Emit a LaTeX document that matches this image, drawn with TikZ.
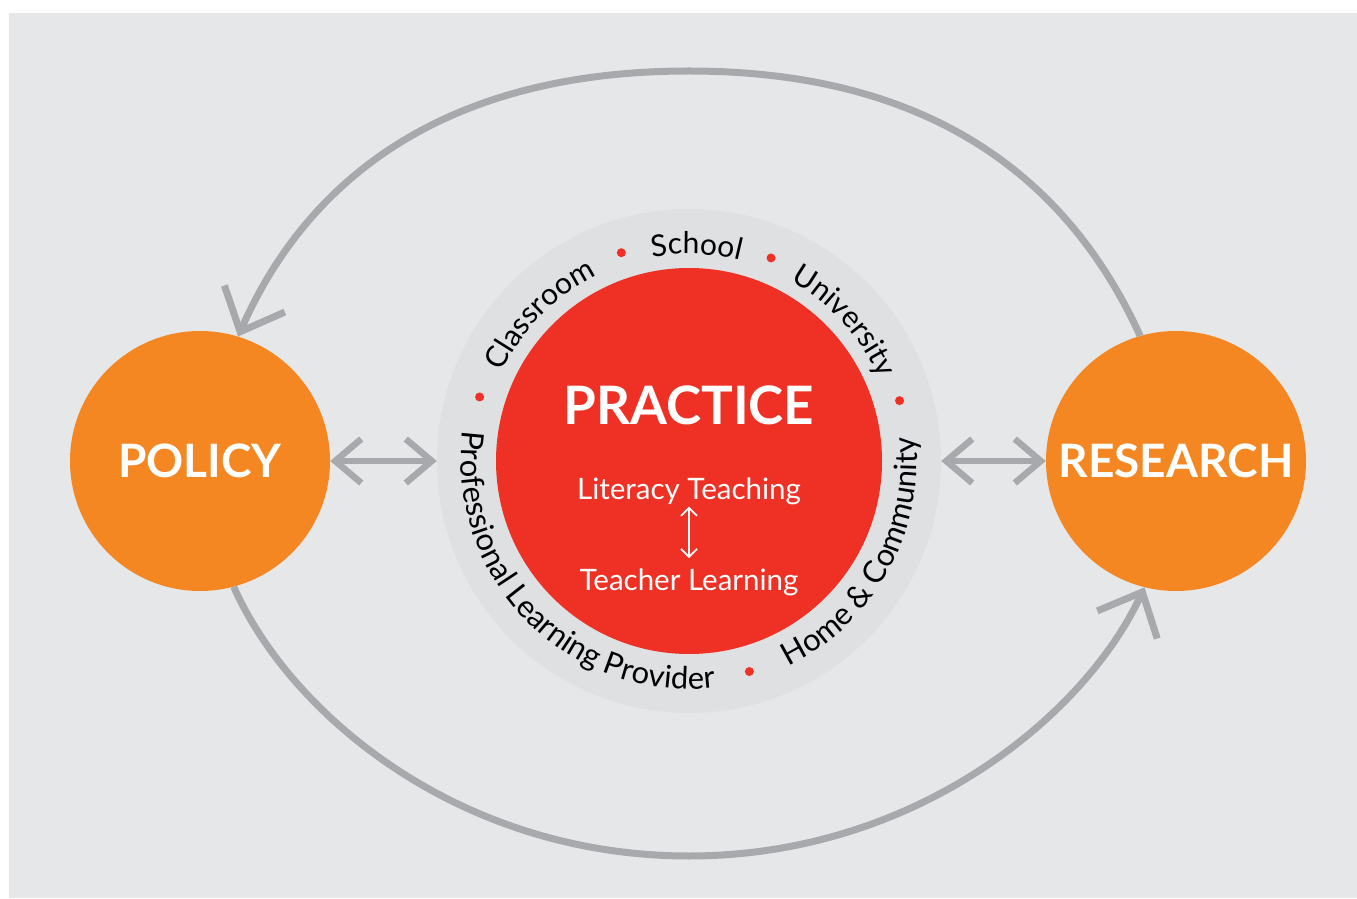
\documentclass[tikz,border=0pt]{standalone}
\usepackage{fontspec}
\setmainfont{Lato}
\usetikzlibrary{arrows.meta,decorations.text,positioning}

\definecolor{bggray}{RGB}{230,231,232}
\definecolor{ringgray}{RGB}{223,224,226}
\definecolor{arrowgray}{RGB}{167,169,172}
\definecolor{orangefill}{RGB}{244,135,34}
\definecolor{redfill}{RGB}{238,49,36}

\newcommand{\ringfont}{\fontsize{30}{36}\selectfont}
\newcommand{\lowringfont}{\fontsize{31}{36}\selectfont}

\tikzset{
  bigcircle/.style={circle, fill=orangefill, minimum size=260pt, inner sep=0pt,
    text=white, font=\fontsize{46}{50}\selectfont\bfseries},
  loop arrow/.style={draw=arrowgray, line width=7pt,
    -{Straight Barb[length=36pt,width=66pt,sharp]}},
  link arrow/.style={draw=arrowgray, line width=6.5pt,
    {Straight Barb[length=26pt,width=44pt,sharp]}-{Straight Barb[length=26pt,width=44pt,sharp]}},
  ringlabel/.style={decorate, decoration={text along path, text align=center,
    text={|\ringfont|#1}}},
  lowringlabel/.style={decorate, decoration={text along path, text align=center,
    text={|\lowringfont|#1}}},
  reddot/.style={circle, fill=redfill, minimum size=9pt, inner sep=0pt},
  inner text/.style={text=white, inner sep=0pt, anchor=base, font=\fontsize{29.5}{34}\selectfont},
}

\begin{document}
\begin{tikzpicture}[x=1pt, y=1pt]
  \useasboundingbox (0,0) rectangle (1357,898);
  \fill[bggray] (9,0) rectangle (1357,885);
  %
  \node[circle, fill=ringgray, minimum size=504pt, inner sep=0pt] (ring) at (689,437) {};
  \node[circle, fill=redfill, minimum size=386pt, inner sep=0pt] (practice) at (689,437) {};
  \node[bigcircle] (policy) at (200,437) {POLICY};
  \node[bigcircle] (research) at (1176,437) {RESEARCH};
  %
  \node[text=white, font=\fontsize{53}{58}\selectfont\bfseries] (practicetext) at (689,493) {PRACTICE};
  \node[inner text] (literacy) at (689,399) {Literacy Teaching};
  \node[inner text] (teacher) at (689,308) {Teacher Learning};
  \draw[white, line width=1.8pt, shorten <=2pt, shorten >=10pt,
    {Straight Barb[length=8pt,width=16pt]}-{Straight Barb[length=8pt,width=16pt]}]
    (literacy.south) -- (teacher.north);
  % Places round the practice circle
  \begin{scope}[shift={(689,437)}]
    \path[ringlabel={Classroom}] (175:207pt) arc[start angle=175, end angle=96, radius=207pt];
    \path[ringlabel={School}] (128:207pt) arc[start angle=128, end angle=48, radius=207pt];
    \path[ringlabel={University}] (82:207pt) arc[start angle=82, end angle=2, radius=207pt];
    \path[lowringlabel={Home {\&} Community}] (-79:228pt) arc[start angle=-79, end angle=21, radius=228pt];
    \path[lowringlabel={Professional Learning Provider}] (159:228pt) arc[start angle=159, end angle=290, radius=228pt];
    %% separating dots
    \node[reddot] (dota) at (163:219pt) {};
    \node[reddot] (dotb) at (108:219pt) {};
    \node[reddot] (dotc) at (68:219pt) {};
    \node[reddot] (dotd) at (16:219pt) {};
    \node[reddot] (dote) at (-74:219pt) {};
  \end{scope}
  % Arrows between the three circles
  \coordinate (top) at (689,827);
  \coordinate (bottom) at (689,42);
  \draw[loop arrow] (research.106) .. controls (1071,714) and (937,827) .. (top)
    .. controls (439,827) and (305,714) .. (policy.73);
  \draw[loop arrow] (policy.-75) .. controls (290,184) and (459,42) .. (bottom)
    .. controls (917,42) and (1086,184) .. (research.-104);
  \draw[link arrow] (policy) -- (ring);
  \draw[link arrow] (ring) -- (research);
\end{tikzpicture}
\end{document}
